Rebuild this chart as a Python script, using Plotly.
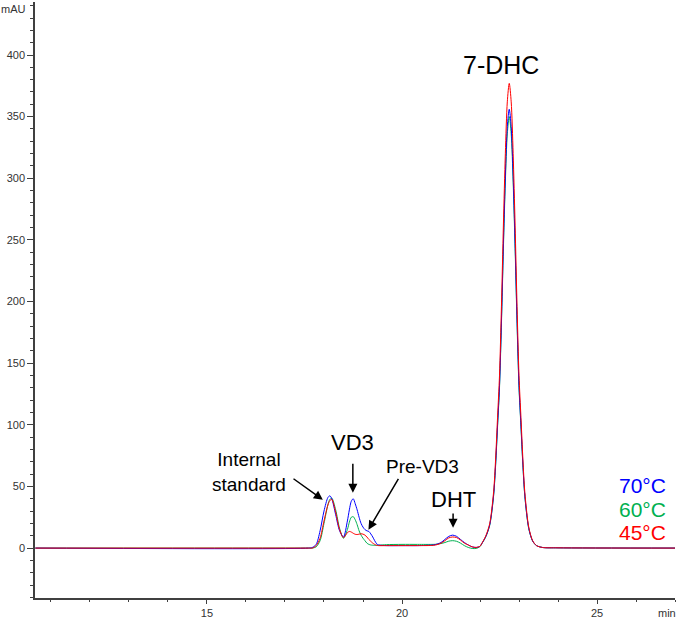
import plotly.graph_objects as go

# Retention time (min)
time_min = [10.6, 17.6, 17.7, 17.8, 17.9, 18.0, 18.1, 18.15, 18.2, 18.3, 18.4, 18.5,
            18.6, 18.65, 18.7, 18.75, 18.8, 18.85, 18.9, 18.95, 19.0, 19.05, 19.1, 19.15,
            19.2, 19.25, 19.3, 19.35, 19.4, 19.6, 20.0, 20.4, 20.8, 20.9, 21.0, 21.1,
            21.2, 21.3, 21.4, 21.5, 21.6, 21.7, 21.8, 21.9, 22.0, 22.05, 22.15, 22.25,
            22.35, 22.4, 22.45, 22.5, 22.55, 22.6, 22.65, 22.7, 22.75, 22.8, 22.85, 22.9,
            22.95, 23.0, 23.05, 23.1, 23.15, 23.25, 23.35, 23.45, 23.6, 24.0, 27.0]

# Absorbance (mAU)
mau_70C = [0, 0, 0.5, 3, 14, 30, 41, 42.4, 40, 27, 14, 9,
           22, 31, 38, 40, 36, 31, 25, 20, 17, 15, 14, 13.5,
           11.5, 9, 6, 3.5, 2.5, 2, 2, 2, 2.5, 3.2, 4.5, 7,
           9.5, 10.5, 9.5, 7, 4.5, 2.5, 1, 0.5, 1.5, 3.8, 9.5, 19,
           43.5, 68, 100, 132, 185, 247, 302, 342, 356, 342, 302, 247,
           185, 132, 100, 68, 42.5, 16, 5.7, 2, 0.5, 0.2, 0]

mau_60C = [0, 0, 0, 1, 6, 20, 35, 39.5, 40.5, 31, 16, 8,
           15, 21, 25, 25.5, 23, 19, 14, 10.5, 8, 6, 4, 3,
           2.5, 2.3, 2.2, 2.2, 2.3, 2.8, 3, 3, 3, 3.2, 3.7, 4.5,
           5.6, 6, 5.5, 4, 2, 0.5, -0.3, -0.3, 1.2, 3.7, 9.3, 18.6,
           42.8, 66.8, 98.4, 130, 182, 243, 297, 336, 350, 336, 297, 243,
           182, 130, 98.4, 66.8, 41.8, 15.8, 5.6, 2, 0.5, 0.2, 0]

mau_45C = [0, 0, 0, 2, 8, 22, 35, 38.5, 39.5, 29, 15, 8.5,
           12.5, 13.5, 13, 12, 11.2, 11, 11.3, 11.6, 11.3, 10.5, 9, 7,
           5.5, 4, 3, 2.3, 2, 2, 2, 2, 2.2, 2.8, 4, 6,
           8.3, 9, 8.5, 6.5, 4, 2.5, 1, 0.5, 1.5, 4, 10, 20,
           46, 72, 106, 140, 196, 262, 320, 362, 377, 362, 320, 262,
           196, 140, 106, 72, 45, 17, 6, 2, 0.5, 0.2, 0]

series_names = ["70°C", "60°C", "45°C"]
series_colors = ["#0000FF", "#00B050", "#FF0000"]

fig = go.Figure()
for name, vals, col in [(series_names[1], mau_60C, series_colors[1]),
                        (series_names[0], mau_70C, series_colors[0]),
                        (series_names[2], mau_45C, series_colors[2])]:
    fig.add_trace(go.Scatter(x=time_min, y=vals, mode="lines", name=name,
                             line=dict(color=col, width=1, shape="spline", smoothing=0.8),
                             showlegend=False, hoverinfo="skip"))

axis_col = "#404040"
tick_font = dict(family="Liberation Sans, Arial, sans-serif", size=11, color="#333333")
fig.update_xaxes(range=[10.59, 27.0], showline=True, linecolor=axis_col, linewidth=1.5,
                 ticks="outside", ticklen=4, tickcolor=axis_col, tickwidth=1,
                 tick0=0, dtick=5, showgrid=False, zeroline=False, tickfont=tick_font,
                 automargin=False,
                 minor=dict(dtick=1, ticks="outside", ticklen=2, tickcolor=axis_col, showgrid=False))
fig.update_yaxes(range=[-40.5, 443], showline=True, linecolor=axis_col, linewidth=1.5,
                 ticks="outside", ticklen=6, tickcolor=axis_col, tickwidth=1,
                 tick0=0, dtick=50, showgrid=False, zeroline=False, tickfont=tick_font,
                 automargin=False,
                 minor=dict(dtick=10, ticks="outside", ticklen=3, tickcolor=axis_col, showgrid=False))

lab_font = "Liberation Sans, Arial, sans-serif"
texts = [
    ("7-DHC", 22.54, 392, 25),
    ("VD3", 18.74, 85.5, 22),
    ("Internal<br>standard", 16.08, 61.8, 19),
    ("Pre-VD3", 20.53, 65.8, 19),
    ("DHT", 21.31, 39.6, 22),
]
for t, x, y, s in texts:
    fig.add_annotation(x=x, y=y, text=t, showarrow=False, xanchor="center", yanchor="middle",
                       font=dict(family=lab_font, size=s, color="black"))

arrows = [
    (17.97, 39.2, 17.18, 57.1),
    (18.74, 44.8, 18.74, 69.7),
    (19.14, 14.9, 19.93, 57.4),
    (21.31, 16.5, 21.31, 29.2),
]
for x, y, ax, ay in arrows:
    fig.add_annotation(x=x, y=y, ax=ax, ay=ay, xref="x", yref="y", axref="x", ayref="y",
                       text="", showarrow=True, arrowhead=2, arrowsize=1.2, arrowwidth=1.5,
                       arrowcolor="black")

temp_y = [50.8, 31.6, 12.5]
for name, col, y in zip(series_names, series_colors, temp_y):
    fig.add_annotation(x=26.82, y=y, text=name, showarrow=False, xanchor="right", yanchor="middle",
                       font=dict(family=lab_font, size=21, color=col))

fig.add_annotation(x=-0.034, y=0.988, xref="paper", yref="paper", text="mAU", showarrow=False,
                   xanchor="center", yanchor="middle", font=tick_font)
fig.add_annotation(x=0.9875, y=-0.025, xref="paper", yref="paper", text="min", showarrow=False,
                   xanchor="center", yanchor="middle", font=tick_font)

fig.update_layout(width=679, height=619, margin=dict(l=35, r=4, t=2, b=21),
                  plot_bgcolor="white", paper_bgcolor="white")

fig.write_html("out.html", config={"displayModeBar": False},
               post_script="document.body.style.margin='0';document.body.style.overflow='hidden';")
